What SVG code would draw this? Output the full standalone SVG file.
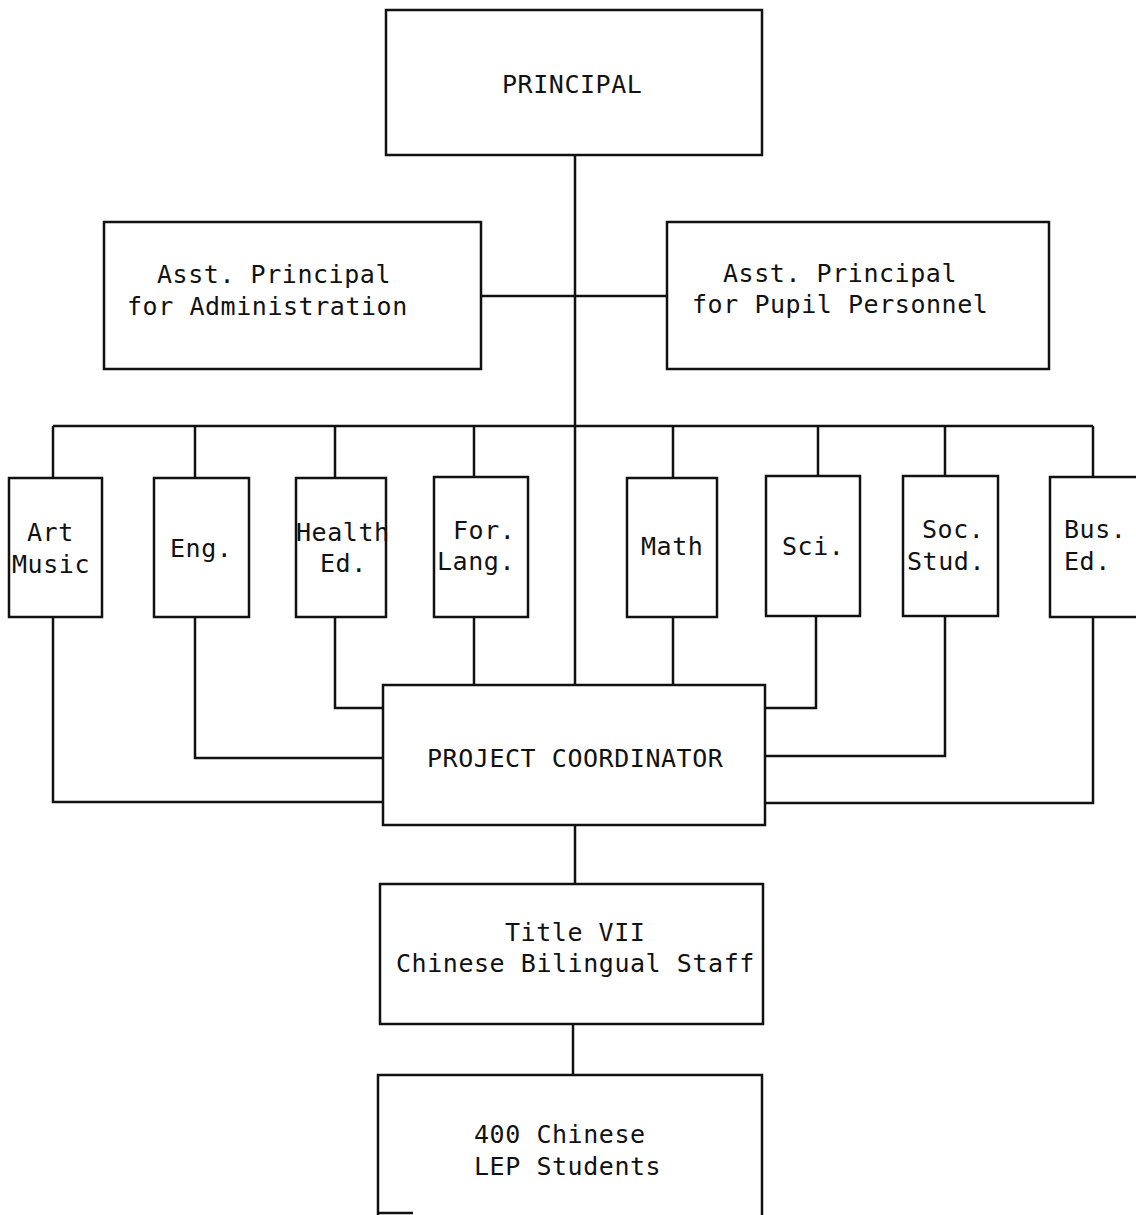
<svg xmlns="http://www.w3.org/2000/svg" width="1136" height="1215" viewBox="0 0 1136 1215">
<style>
.box{fill:#fff;stroke:#111;stroke-width:2.5}
.ln{fill:none;stroke:#111;stroke-width:2.5}
text{font-family:"DejaVu Sans Mono","Liberation Mono",monospace;font-size:25px;letter-spacing:0.55px;fill:#111}
</style>
<rect width="1136" height="1215" fill="#fff"/>
<g id="connectors">
<path class="ln" d="M575 155V685"/>
<path class="ln" d="M481 296H667"/>
<path class="ln" d="M53 426H1093"/>
<path class="ln" d="M53 426V478M195 426V478M335 426V478M474 426V477M673 426V478M818 426V478M945 426V478M1093 426V477"/>
<path class="ln" d="M53 617V802H383"/>
<path class="ln" d="M195 617V758H383"/>
<path class="ln" d="M335 617V708H383"/>
<path class="ln" d="M474 617V685"/>
<path class="ln" d="M673 617V685"/>
<path class="ln" d="M816 616V708H765"/>
<path class="ln" d="M945 616V756H765"/>
<path class="ln" d="M1093 617V803H765"/>
<path class="ln" d="M575 825V884"/>
<path class="ln" d="M573 1024V1075"/>
</g>
<g id="principal"><rect class="box" x="386" y="10" width="376" height="145"/><text x="502" y="93">PRINCIPAL</text></g>
<g id="asst-admin"><rect class="box" x="104" y="222" width="377" height="147"/><text x="157" y="283">Asst. Principal</text><text x="127" y="315">for Administration</text></g>
<g id="asst-pupil"><rect class="box" x="667" y="222" width="382" height="147"/><text x="723" y="282">Asst. Principal</text><text x="692" y="313">for Pupil Personnel</text></g>
<g id="art"><rect class="box" x="9" y="478" width="93" height="139"/><text x="27" y="541">Art</text><text x="12" y="573">Music</text></g>
<g id="eng"><rect class="box" x="154" y="478" width="95" height="139"/><text x="170" y="557">Eng.</text></g>
<g id="health"><rect class="box" x="296" y="478" width="90" height="139"/><text x="296" y="541">Health</text><text x="320" y="572">Ed.</text></g>
<g id="forlang"><rect class="box" x="434" y="477" width="94" height="140"/><text x="453" y="539">For.</text><text x="437" y="570">Lang.</text></g>
<g id="math"><rect class="box" x="627" y="478" width="90" height="139"/><text x="641" y="555">Math</text></g>
<g id="sci"><rect class="box" x="766" y="476" width="94" height="140"/><text x="782" y="555">Sci.</text></g>
<g id="socstud"><rect class="box" x="903" y="476" width="95" height="140"/><text x="922" y="538">Soc.</text><text x="907" y="570">Stud.</text></g>
<g id="busEd"><rect class="box" x="1050" y="477" width="100" height="140"/><text x="1064" y="538">Bus.</text><text x="1064" y="570">Ed.</text></g>
<g id="coordinator"><rect class="box" x="383" y="685" width="382" height="140"/><text x="427" y="767">PROJECT COORDINATOR</text></g>
<g id="staff"><rect class="box" x="380" y="884" width="383" height="140"/><text x="505" y="941">Title VII</text><text x="396" y="972">Chinese Bilingual Staff</text></g>
<g id="students"><path class="box" d="M378 1216V1075H762V1216"/><path class="ln" d="M378 1213H413"/><text x="474" y="1143">400 Chinese</text><text x="474" y="1175">LEP Students</text></g>
</svg>
